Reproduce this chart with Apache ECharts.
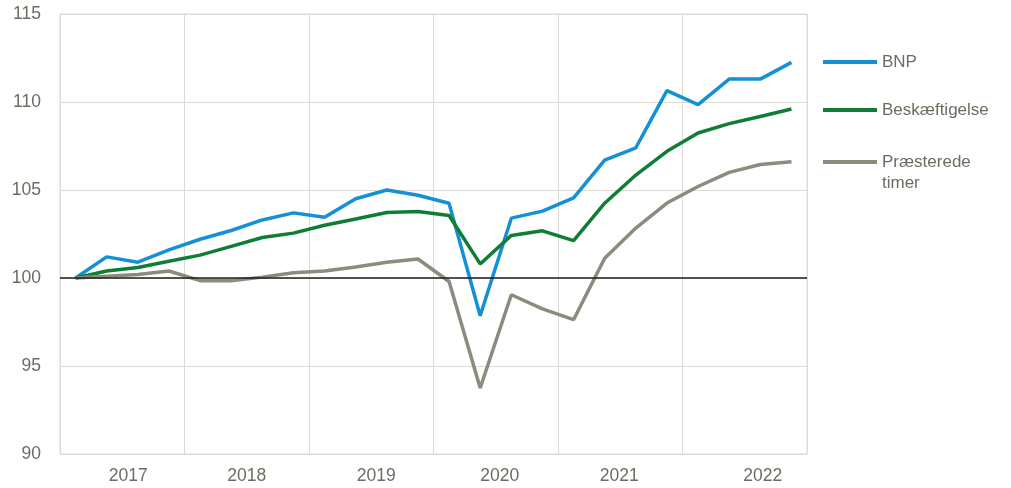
<!DOCTYPE html>
<html>
<head>
<meta charset="utf-8">
<script src="https://cdn.jsdelivr.net/npm/echarts@6/dist/echarts.min.js"></script>
<style>
  html, body { margin: 0; padding: 0; background: #fff; }
  #chart { width: 1011px; height: 488px; }
</style>
</head>
<body>
<div id="chart"></div>
<script>
// kvartaler 2017K1 - 2022K4
const quarters = []
const years = ['2017', '2018', '2019', '2020', '2021', '2022']
years.forEach((y) => {
  for (let q = 1; q <= 4; q++) quarters.push(y + 'K' + q)
})

const bnp = [100, 101.2, 100.9, 101.6, 102.2, 102.7, 103.3, 103.7,
  103.45, 104.5, 105.0, 104.7, 104.25, 97.85, 103.4, 103.8,
  104.55, 106.7, 107.4, 110.65, 109.85, 111.3, 111.3, 112.25]
const beskaeftigelse = [100, 100.4, 100.6, 100.95, 101.3, 101.8, 102.3, 102.55,
  103.0, 103.35, 103.72, 103.78, 103.55, 100.8, 102.42, 102.68,
  102.12, 104.25, 105.85, 107.2, 108.24, 108.77, 109.18, 109.6]
const timer = [100, 100.1, 100.2, 100.4, 99.85, 99.85, 100.05, 100.3,
  100.4, 100.62, 100.9, 101.08, 99.8, 93.75, 99.05, 98.25,
  97.63, 101.12, 102.84, 104.26, 105.2, 106.0, 106.45, 106.6]

const yTicks = { min: 90, max: 115, step: 5 }

const textColor = '#6d6c60'
const gridColor = '#dcdbd3'
const font = '"Liberation Sans", Arial, sans-serif'

const colors = {
  bnp: '#1590d6',
  besk: '#0f7d36',
  timer: '#8d8b7e'
}

// årstals-labels sidder ikke helt midt i året i originalen (px forskydning)
const yearLabelShift = { '2017': 6, '2018': 0, '2019': 5, '2020': 4, '2021': -1, '2022': 18 }

const myChart = echarts.init(document.getElementById('chart'))

const lineSeries = (name, data, color, extra) => Object.assign({
  name: name,
  type: 'line',
  xAxisIndex: 0,
  data: data,
  symbol: 'none',
  lineStyle: { color: color, width: 3.5 },
  itemStyle: { color: color }
}, extra || {})

const legendItem = (name, top, label) => ({
  data: [name],
  left: 823,
  top: top,
  padding: 0,
  orient: 'vertical',
  icon: 'rect',
  itemWidth: 54,
  itemHeight: 4,
  itemGap: 0,
  selectedMode: false,
  formatter: () => label,
  textStyle: { color: textColor, fontSize: 17, fontFamily: font, lineHeight: 23 }
})

const yearRich = {}
years.forEach((y) => {
  const s = yearLabelShift[y]
  yearRich['y' + y] = {
    color: textColor,
    fontSize: 17.5,
    fontFamily: font,
    padding: s >= 0 ? [0, 0, 0, 2 * s] : [0, -2 * s, 0, 0]
  }
})

const myOption = {
  backgroundColor: '#fff',
  animation: false,
  grid: {
    left: 60,
    right: 204,
    top: 14,
    bottom: 34,
    show: true,
    borderColor: gridColor,
    borderWidth: 1
  },
  legend: [
    legendItem('BNP', 50.5, 'BNP'),
    legendItem('Beskæftigelse', 98.5, 'Beskæftigelse'),
    legendItem('Præsterede timer', 150.5, 'Præsterede')
  ],
  graphic: [{
    type: 'text',
    left: 882,
    top: 175,
    style: { text: 'timer', fill: textColor, font: '17px ' + font }
  }],
  xAxis: [
    {
      type: 'category',
      data: quarters,
      boundaryGap: true,
      axisLine: { show: false },
      axisTick: { show: false },
      axisLabel: { show: false },
      splitLine: { show: false }
    },
    {
      type: 'category',
      data: years,
      boundaryGap: true,
      position: 'bottom',
      axisLine: { show: false },
      axisTick: { show: false, interval: 0 },
      axisLabel: {
        interval: 0,
        hideOverlap: false,
        color: textColor,
        fontSize: 17.5,
        fontFamily: font,
        margin: 13,
        formatter: (v) => '{y' + v + '|' + v + '}',
        rich: yearRich
      },
      splitLine: { show: true, interval: 0, lineStyle: { color: gridColor, width: 1 } }
    }
  ],
  yAxis: {
    type: 'value',
    min: yTicks.min,
    max: yTicks.max,
    interval: yTicks.step,
    axisLine: { show: false },
    axisTick: { show: false },
    axisLabel: { color: textColor, fontSize: 17.5, fontFamily: font, margin: 19 },
    splitLine: { lineStyle: { color: gridColor, width: 1 } }
  },
  series: [
    lineSeries('BNP', bnp, colors.bnp, {
      markLine: {
        silent: true,
        symbol: 'none',
        label: { show: false },
        lineStyle: { color: '#1c1c1c', width: 1.5, type: 'solid' },
        data: [{ yAxis: 100 }]
      }
    }),
    lineSeries('Beskæftigelse', beskaeftigelse, colors.besk),
    lineSeries('Præsterede timer', timer, colors.timer)
  ]
}
myChart.setOption(myOption)
</script>
</body>
</html>
